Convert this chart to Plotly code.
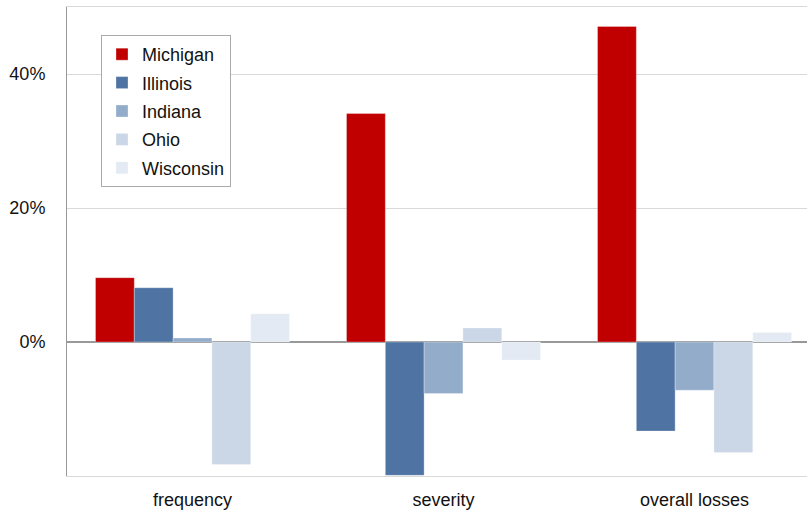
import plotly.graph_objects as go

categories = ["frequency", "severity", "overall losses"]
states = ["Michigan", "Illinois", "Indiana", "Ohio", "Wisconsin"]
michigan = [9.6, 34.1, 47.1]
illinois = [8.1, -19.9, -13.3]
indiana = [0.6, -7.7, -7.2]
ohio = [-18.3, 2.1, -16.5]
wisconsin = [4.2, -2.7, 1.4]
series = [michigan, illinois, indiana, ohio, wisconsin]
colors = ["#C00000", "#4F74A3", "#92ACCA", "#CBD7E7", "#E3EAF3"]
tick_vals = [0, 20, 40]
tick_text = ["0%", "20%", "40%"]

fig = go.Figure()
for name, vals, col in zip(states, series, colors):
    fig.add_trace(go.Bar(
        x=categories, y=vals, name=name, legendgroup=name,
        marker=dict(color=col, line=dict(color="rgba(255,255,255,0.6)", width=0.5)),
    ))

fig.update_layout(
    width=807, height=510,
    margin=dict(l=67, r=0, t=7, b=34),
    paper_bgcolor="white", plot_bgcolor="white",
    barmode="group", bargap=0.227, bargroupgap=0,
    font=dict(family="Liberation Sans, Arial, sans-serif", size=18, color="#111"),
    legend=dict(
        x=(101 - 67) / 740, y=(476 - 35) / 469, xanchor="left", yanchor="top",
        bordercolor="#aaaaaa", borderwidth=1, bgcolor="white",
        font=dict(size=18), tracegroupgap=2,
        itemwidth=30,
    ),
    showlegend=True,
)
fig.update_xaxes(
    range=[-0.5, 2.448], showgrid=False, automargin=False,
    showline=True, linecolor="#d9d9d9", linewidth=1, mirror=True,
    ticks="", ticklabelstandoff=7,
)
fig.update_yaxes(
    range=[-20, 50], tickvals=tick_vals, ticktext=tick_text, automargin=False,
    showgrid=True, gridcolor="#d9d9d9", gridwidth=1,
    zeroline=True, zerolinecolor="#999999", zerolinewidth=2,
    showline=True, linecolor="#999999", linewidth=1,
    ticks="", ticklabelstandoff=17,
)

fig.write_html("out.html", config={"displayModeBar": False},
               post_script="document.body.style.margin='0';")
